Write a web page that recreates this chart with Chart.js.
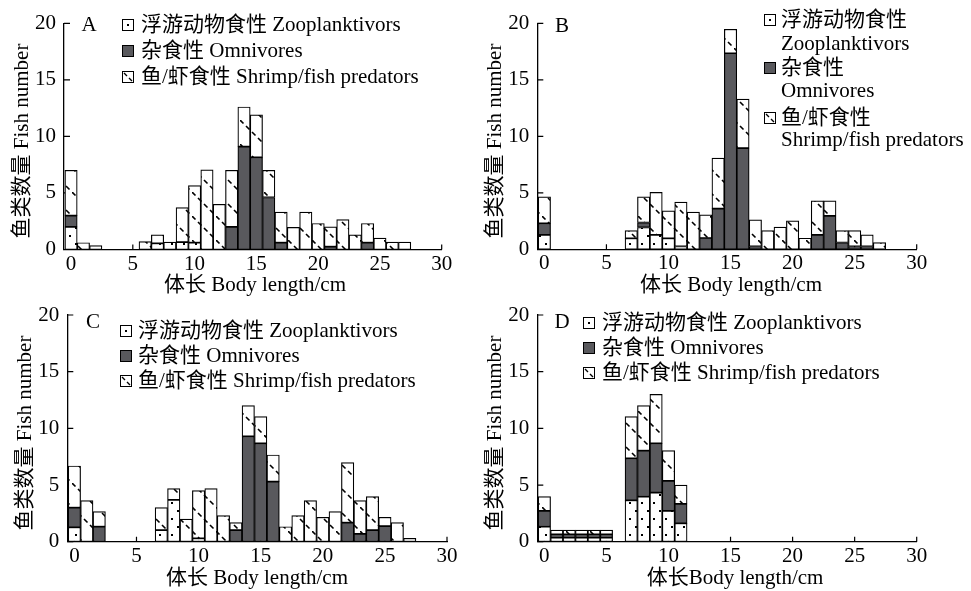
<!DOCTYPE html>
<html>
<head>
<meta charset="utf-8">
<script src="https://cdn.jsdelivr.net/npm/chart.js@4.4.1/dist/chart.umd.min.js"></script>
<style>
    body { margin: 0; background: #fff; }
    #wrap { position: relative; width: 971px; height: 591px; overflow: hidden; background: #fff; }
    #wrap canvas { position: absolute; }
</style>
</head>
<body>
<div id="wrap">
    <canvas id="chartA"></canvas>
    <canvas id="chartB"></canvas>
    <canvas id="chartC"></canvas>
    <canvas id="chartD"></canvas>
</div>
<script>
// Body length classes (cm), one bar per class
const bodyLength = [0,1,2,3,4,5,6,7,8,9,10,11,12,13,14,15,16,17,18,19,20,21,22,23,24,25,26,27,28,29];

// A
const zoopA   = [2,0,0,0,0,0,0,0.55,0.65,0.65,0.6,0,0,0,0,0,0,0,0,0,0,0,0,0,0,0,0,0,0,0];
const omniA   = [1,0,0,0,0,0,0,0,0,0,0,0,0,2,9.1,8.15,4.6,0.6,0,0,0,0.25,0,0,0.6,0,0,0,0,0];
const shrimpA = [4,0.6,0.35,0,0,0,0.7,0.75,0,3.05,5.05,7.05,4.0,5.0,3.5,3.75,2.4,2.7,1.95,3.3,2.3,1.75,2.65,1.3,1.7,1.0,0.65,0.65,0,0];

// B
const zoopB   = [1.27,0,0,0,0,0,0,0.97,1.93,1.28,0.97,0.25,0,0,0,0,0,0,0,0,0,0,0,0,0,0,0,0,0,0];
const omniB   = [1.03,0,0,0,0,0,0,0,0.44,0,0,0,0,1.0,3.6,17.35,8.96,0.25,0,0,0,0,1.28,2.95,0.6,0.25,0.25,0,0,0];
const shrimpB = [2.35,0,0,0,0,0,0,0.68,2.28,3.76,2.43,3.92,3.3,2.04,4.47,2.12,4.34,2.35,1.66,1.96,2.52,0.98,3.01,1.34,1.06,1.41,1.03,0.6,0,0];

// C
const zoopC   = [1.27,0,0,0,0,0,0,1.03,3.68,0,0.3,0,0,0,0,0,0,0,0,0,0,0,0,0,0,0,0,0,0,0];
const omniC   = [1.73,0,1.32,0,0,0,0,0,0,0,0,0,0,1.03,9.3,8.68,5.3,0,0,0,0,0,1.68,0.68,1.03,1.38,0,0,0,0];
const shrimpC = [3.68,3.62,1.33,0,0,0,0,1.97,1.0,2.0,4.2,4.68,2.3,0.65,2.7,2.35,2.35,1.32,2.3,3.62,2.15,2.65,5.29,2.94,2.94,0.77,1.68,0.3,0,0];

// D
const zoopD   = [1.32,0.35,0.35,0.35,0.35,0.35,0,3.65,3.97,4.33,2.71,1.62,0,0,0,0,0,0,0,0,0,0,0,0,0,0,0,0,0,0];
const omniD   = [1.39,0.3,0.3,0.3,0.3,0.3,0,3.71,4.06,4.35,2.65,1.71,0,0,0,0,0,0,0,0,0,0,0,0,0,0,0,0,0,0];
const shrimpD = [1.26,0.38,0.38,0.38,0.38,0.38,0,3.67,3.97,4.32,2.67,1.67,0,0,0,0,0,0,0,0,0,0,0,0,0,0,0,0,0,0];

const xTicks = [0,5,10,15,20,25,30];
const yTicks = [0,5,10,15,20];
const legendZh = ['浮游动物食性', '杂食性', '鱼/虾食性'];
const legendEn = ['Zooplanktivors', 'Omnivores', 'Shrimp/fish predators'];
const yTitle = '鱼类数量 Fish number';

const FONT = '"Liberation Serif", "Noto Sans CJK SC", serif';
const OMNI_COLOR = '#59595d';

// Fill patterns
function makeDots() {
    const c = document.createElement('canvas');
    c.width = 12; c.height = 16;
    const g = c.getContext('2d');
    g.fillStyle = '#fff'; g.fillRect(0, 0, 12, 16);
    g.fillStyle = '#000';
    g.fillRect(3, 3, 2, 2);
    g.fillRect(9, 11, 2, 2);
    return g.createPattern(c, 'repeat');
}

function makeHatch() {
    const s = 24;
    const c = document.createElement('canvas');
    c.width = s; c.height = s;
    const g = c.getContext('2d');
    g.fillStyle = '#fff'; g.fillRect(0, 0, s, s);
    g.strokeStyle = '#000';
    g.lineWidth = 1.6;
    g.beginPath();
    // short dashes along the "\" diagonal
    for (let t = 0; t < s; t += 6) {
        g.moveTo(t, t);
        g.lineTo(t + 3.5, t + 3.5);
    }
    g.stroke();
    return g.createPattern(c, 'repeat');
}

const patZoop = makeDots();
const patShrimp = makeHatch();

function legendIcon(ctx, kind, x, yc) {
    const top = yc - 6;
    ctx.fillStyle = kind === 1 ? OMNI_COLOR : '#fff';
    ctx.fillRect(x, top, 12, 12);
    ctx.strokeStyle = '#000';
    ctx.lineWidth = 1;
    ctx.strokeRect(x + 0.5, top + 0.5, 11, 11);
    ctx.fillStyle = '#000';
    if (kind === 0) {
        ctx.fillRect(x + 5, top + 5, 2, 2);
    } else if (kind === 2) {
        ctx.beginPath();
        ctx.lineWidth = 1.4;
        ctx.moveTo(x + 2, top + 2); ctx.lineTo(x + 5, top + 5);
        ctx.moveTo(x + 7, top + 7); ctx.lineTo(x + 10, top + 10);
        ctx.stroke();
    }
}

// Inner ticks, letter, legend and axis titles
const panelText = {
    id: 'panelText',
    beforeDatasetsDraw(chart, args, o) {
        const ctx = chart.ctx;
        const xs = chart.scales.x, ys = chart.scales.y, a = chart.chartArea;
        ctx.save();
        ctx.strokeStyle = '#000';
        ctx.lineWidth = 1.2;
        ctx.beginPath();
        xs.ticks.forEach(t => {
            const px = xs.getPixelForValue(t.value);
            ctx.moveTo(px, a.bottom); ctx.lineTo(px, a.bottom - 5);
        });
        ys.ticks.forEach(t => {
            const py = ys.getPixelForValue(t.value);
            ctx.moveTo(a.left, py); ctx.lineTo(a.left + 6, py);
        });
        ctx.stroke();
        ctx.restore();
    },
    afterDraw(chart, args, o) {
        const ctx = chart.ctx;
        ctx.save();
        ctx.translate(-o.ox, -o.oy);
        ctx.font = '21px ' + FONT;
        ctx.fillStyle = '#000';
        ctx.textBaseline = 'middle';

        ctx.textAlign = 'center';
        ctx.fillText(o.letter, o.letterPos[0], o.letterPos[1]);

        o.rows.forEach((ry, i) => {
            legendIcon(ctx, i, o.legendX, ry);
            ctx.fillStyle = '#000';
            ctx.font = '21px ' + FONT;
            ctx.textAlign = 'left';
            if (o.enRows) {
                ctx.fillText(legendZh[i], o.textX, ry);
                ctx.fillText(legendEn[i], o.textX, o.enRows[i]);
            } else {
                ctx.fillText(legendZh[i] + ' ' + legendEn[i], o.textX, ry);
            }
        });

        ctx.textAlign = 'center';
        ctx.fillText(o.xTitle, o.xTitlePos[0], o.xTitlePos[1]);

        ctx.translate(o.yTitlePos[0], o.yTitlePos[1]);
        ctx.rotate(-Math.PI / 2);
        ctx.fillText(yTitle, 0, 0);
        ctx.restore();
    }
};

function toPoints(arr) {
    return bodyLength.map((x, i) => ({ x: x, y: arr[i] ? arr[i] : null }));
}

function makePanel(id, zoop, omni, shrimp, box, area, text) {
    const cv = document.getElementById(id);
    cv.width = box.w; cv.height = box.h;
    cv.style.left = box.x + 'px';
    cv.style.top = box.y + 'px';
    const tickFont = { family: FONT, size: 21 };

    return new Chart(cv, {
        type: 'bar',
        data: {
            datasets: [
                { label: legendEn[0], data: toPoints(zoop), backgroundColor: patZoop },
                { label: legendEn[1], data: toPoints(omni), backgroundColor: OMNI_COLOR },
                { label: legendEn[2], data: toPoints(shrimp), backgroundColor: patShrimp }
            ]
        },
        options: {
            responsive: false,
            animation: false,
            devicePixelRatio: 1,
            layout: {
                padding: { left: 0, top: area.top - box.y, right: box.x + box.w - area.right, bottom: 0 }
            },
            datasets: {
                bar: {
                    barPercentage: 1,
                    categoryPercentage: 1,
                    borderWidth: 1.2,
                    borderColor: '#000',
                    borderSkipped: false
                }
            },
            plugins: {
                legend: { display: false },
                tooltip: { enabled: false },
                panelText: Object.assign({ ox: box.x, oy: box.y }, text)
            },
            scales: {
                x: {
                    type: 'linear',
                    stacked: true,
                    offset: false,
                    min: -0.57,
                    max: 30,
                    afterBuildTicks: s => { s.ticks = xTicks.map(v => ({ value: v })); },
                    afterFit: s => { s.height = box.y + box.h - area.bottom; },
                    grid: { display: false, drawTicks: false },
                    border: { display: true, color: '#000', width: 1.3 },
                    ticks: { color: '#000', font: tickFont, padding: 2, maxRotation: 0, autoSkip: false }
                },
                y: {
                    stacked: true,
                    min: 0,
                    max: 20,
                    afterBuildTicks: s => { s.ticks = yTicks.map(v => ({ value: v })); },
                    afterFit: s => { s.width = area.left - box.x; },
                    grid: { display: false, drawTicks: false },
                    border: { display: true, color: '#000', width: 1.3 },
                    ticks: { color: '#000', font: tickFont, padding: 8 }
                }
            }
        },
        plugins: [panelText]
    });
}

makePanel('chartA', zoopA, omniA, shrimpA,
    { x: 0, y: 0, w: 480, h: 300 },
    { left: 64, top: 23.3, right: 441.7, bottom: 249.5 },
    { letter: 'A', letterPos: [89, 25], legendX: 122, textX: 141, rows: [25, 51, 77],
      xTitle: '体长 Body length/cm', xTitlePos: [255, 285], yTitlePos: [22, 141] });

makePanel('chartB', zoopB, omniB, shrimpB,
    { x: 470, y: 0, w: 501, h: 300 },
    { left: 537.3, top: 23.3, right: 916.7, bottom: 249.3 },
    { letter: 'B', letterPos: [562, 26], legendX: 764, textX: 781, rows: [20, 68, 118], enRows: [44, 91, 140],
      xTitle: '体长 Body length/cm', xTitlePos: [731, 285], yTitlePos: [495, 141] });

makePanel('chartC', zoopC, omniC, shrimpC,
    { x: 0, y: 291, w: 480, h: 300 },
    { left: 67.3, top: 315, right: 447, bottom: 541.7 },
    { letter: 'C', letterPos: [93, 322], legendX: 120, textX: 138, rows: [331, 356, 381],
      xTitle: '体长 Body length/cm', xTitlePos: [257, 578], yTitlePos: [25, 433] });

makePanel('chartD', zoopD, omniD, shrimpD,
    { x: 470, y: 291, w: 501, h: 300 },
    { left: 537.3, top: 315, right: 916.7, bottom: 541.7 },
    { letter: 'D', letterPos: [562, 322], legendX: 583, textX: 602, rows: [323, 348, 373],
      xTitle: '体长Body length/cm', xTitlePos: [735, 578], yTitlePos: [495, 433] });
</script>
</body>
</html>
